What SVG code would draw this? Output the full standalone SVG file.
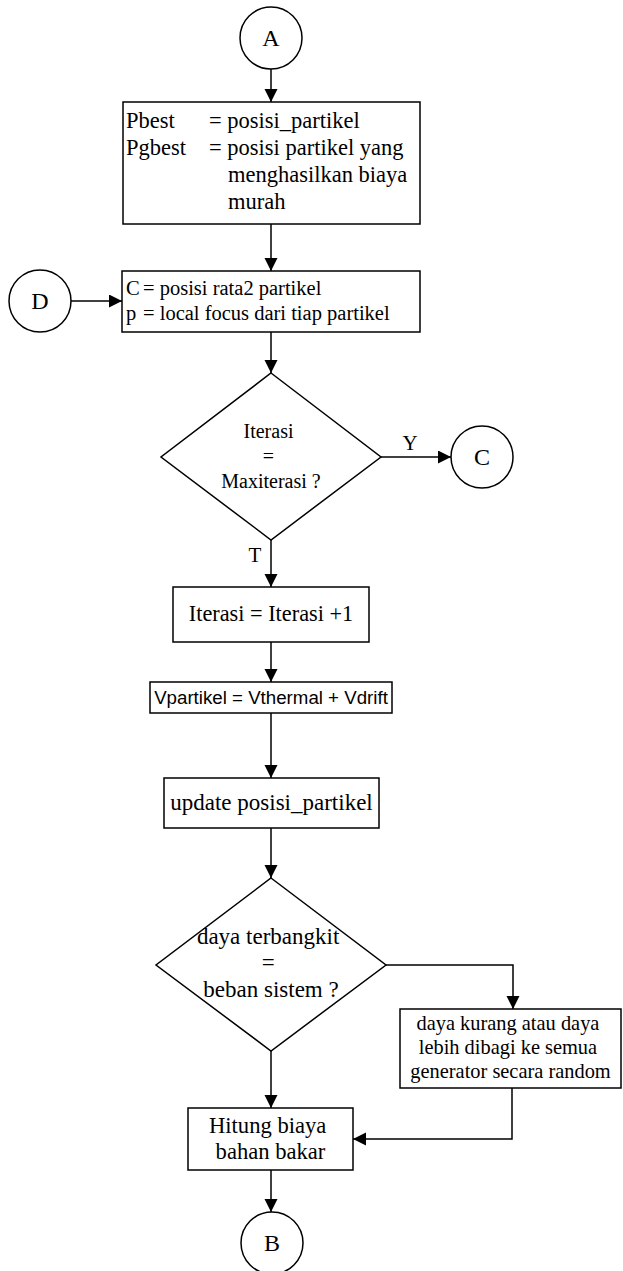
<svg xmlns="http://www.w3.org/2000/svg" width="623" height="1271" viewBox="0 0 623 1271">
  <style>
    .shape { fill: #ffffff; stroke: #000000; stroke-width: 1.5; }
    .wire { fill: none; stroke: #000000; stroke-width: 1.5; }
    .t { font-family: "Liberation Serif", "Times New Roman", serif; fill: #000000; }
    .c { text-anchor: middle; }
    .sans { font-family: "Liberation Sans", Arial, sans-serif; fill: #000000; }
  </style>
  <defs>
    <marker id="arrow" markerUnits="userSpaceOnUse" markerWidth="14" markerHeight="14" refX="13" refY="6.5" orient="auto">
      <path d="M0,0 L13,6.5 L0,13 Z" fill="#000000"/>
    </marker>
  </defs>

  <rect width="623" height="1271" fill="#ffffff"/>

  <!-- connectors -->
  <g id="connectors">
    <line class="wire" x1="271" y1="69" x2="271" y2="102" marker-end="url(#arrow)"/>
    <line class="wire" x1="271" y1="224" x2="271" y2="271" marker-end="url(#arrow)"/>
    <line class="wire" x1="71" y1="301" x2="122" y2="301" marker-end="url(#arrow)"/>
    <line class="wire" x1="271" y1="332" x2="271" y2="373" marker-end="url(#arrow)"/>
    <line class="wire" x1="381" y1="457" x2="451" y2="457" marker-end="url(#arrow)"/>
    <line class="wire" x1="271" y1="540" x2="271" y2="587" marker-end="url(#arrow)"/>
    <line class="wire" x1="271" y1="642" x2="271" y2="682" marker-end="url(#arrow)"/>
    <line class="wire" x1="271" y1="713" x2="271" y2="778" marker-end="url(#arrow)"/>
    <line class="wire" x1="271" y1="828" x2="271" y2="878" marker-end="url(#arrow)"/>
    <polyline class="wire" points="386,965 513,965 513,1009" marker-end="url(#arrow)"/>
    <line class="wire" x1="271" y1="1051" x2="271" y2="1108" marker-end="url(#arrow)"/>
    <polyline class="wire" points="512,1088 512,1139 353,1139" marker-end="url(#arrow)"/>
    <line class="wire" x1="271" y1="1170" x2="271" y2="1212" marker-end="url(#arrow)"/>
    <text class="t c" x="410" y="450" font-size="21">Y</text>
    <text class="t c" x="255" y="562" font-size="21">T</text>
  </g>

  <!-- connector A -->
  <g id="node-a">
    <circle class="shape" cx="271" cy="38" r="31"/>
    <text class="t c" x="271" y="46" font-size="24">A</text>
  </g>

  <!-- initial best positions -->
  <g id="node-init">
    <rect class="shape" x="123" y="102" width="297" height="122"/>
    <text class="t" font-size="22.5">
      <tspan x="126" y="128">Pbest</tspan>
      <tspan x="209" y="128">= posisi_partikel</tspan>
      <tspan x="126" y="155">Pgbest</tspan>
      <tspan x="209" y="155">= posisi partikel yang</tspan>
      <tspan x="228" y="182">menghasilkan biaya</tspan>
      <tspan x="228" y="209">murah</tspan>
    </text>
  </g>

  <!-- connector D -->
  <g id="node-d">
    <circle class="shape" cx="40" cy="301" r="31"/>
    <text class="t c" x="40" y="309" font-size="24">D</text>
  </g>

  <!-- centre and local focus -->
  <g id="node-centre">
    <rect class="shape" x="122" y="271" width="298" height="61"/>
    <text class="t" font-size="20.5">
      <tspan x="126" y="295">C</tspan>
      <tspan x="143" y="295">= posisi rata2 partikel</tspan>
      <tspan x="126" y="320">p</tspan>
      <tspan x="143" y="320">= local focus dari tiap partikel</tspan>
    </text>
  </g>

  <!-- iteration check -->
  <g id="node-iter-check">
    <polygon class="shape" points="271,373 381,457 271,540 161,457"/>
    <text class="t c" font-size="20">
      <tspan x="271" y="438">Iterasi</tspan>
      <tspan x="271" y="463">=</tspan>
      <tspan x="271" y="488">Maxiterasi ?</tspan>
    </text>
  </g>

  <!-- connector C -->
  <g id="node-c">
    <circle class="shape" cx="482" cy="457" r="31"/>
    <text class="t c" x="482" y="465" font-size="24">C</text>
  </g>

  <!-- iteration increment -->
  <g id="node-iter-inc">
    <rect class="shape" x="173" y="587" width="196" height="55"/>
    <text class="t c" x="271" y="621" font-size="22.3">Iterasi = Iterasi +1</text>
  </g>

  <!-- velocity update -->
  <g id="node-velocity">
    <rect class="shape" x="150" y="682" width="242" height="31"/>
    <text class="sans c" x="271" y="704" font-size="18.7">Vpartikel = Vthermal + Vdrift</text>
  </g>

  <!-- position update -->
  <g id="node-position">
    <rect class="shape" x="164" y="778" width="215" height="50"/>
    <text class="t c" x="271.5" y="810" font-size="23">update posisi_partikel</text>
  </g>

  <!-- power balance check -->
  <g id="node-balance">
    <polygon class="shape" points="271,878 386,965 271,1051 156,965"/>
    <text class="t c" font-size="23">
      <tspan x="271" y="944">daya terbangkit</tspan>
      <tspan x="271" y="970">=</tspan>
      <tspan x="271" y="997">beban sistem ?</tspan>
    </text>
  </g>

  <!-- redistribute mismatch -->
  <g id="node-redistribute">
    <rect class="shape" x="400" y="1009" width="221" height="79"/>
    <text class="t c" font-size="20.4">
      <tspan x="510.5" y="1030">daya kurang atau daya</tspan>
      <tspan x="510.5" y="1054">lebih dibagi ke semua</tspan>
      <tspan x="510.5" y="1078">generator secara random</tspan>
    </text>
  </g>

  <!-- fuel cost -->
  <g id="node-cost">
    <rect class="shape" x="188" y="1108" width="165" height="62"/>
    <text class="t c" font-size="22.6">
      <tspan x="270.5" y="1133">Hitung biaya</tspan>
      <tspan x="270.5" y="1159">bahan bakar</tspan>
    </text>
  </g>

  <!-- connector B -->
  <g id="node-b">
    <circle class="shape" cx="272" cy="1243" r="31"/>
    <text class="t c" x="272" y="1251" font-size="24">B</text>
  </g>
</svg>
